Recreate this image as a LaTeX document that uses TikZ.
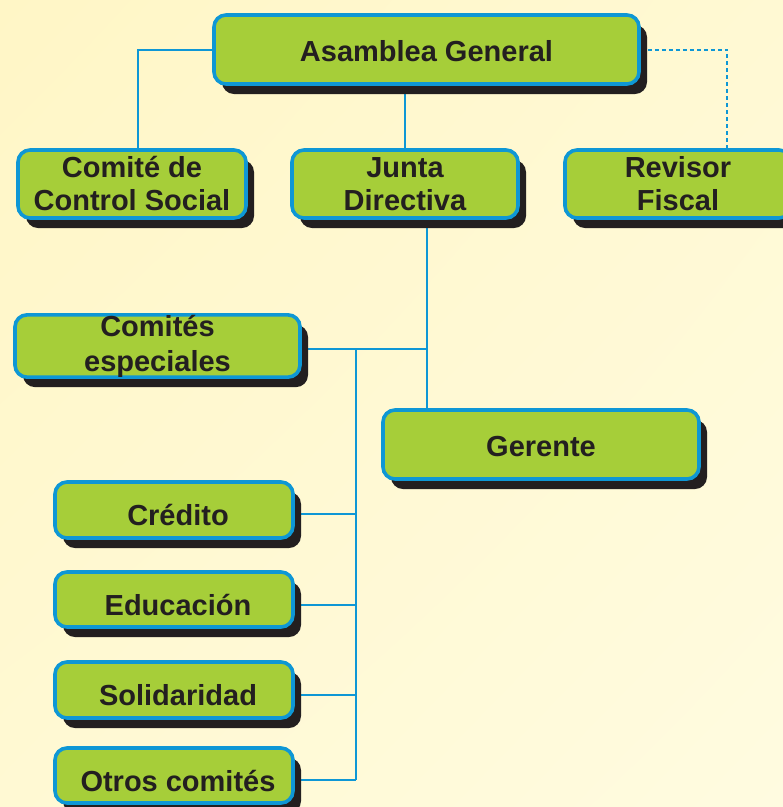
\documentclass[tikz,border=0pt]{standalone}
\usepackage{fontspec}
\setmainfont{Liberation Sans}
\usetikzlibrary{shadows,shadings}
\definecolor{bgreen}{HTML}{A6CE39}
\definecolor{bblue}{HTML}{0E97D5}
\definecolor{tdark}{HTML}{231F20}
\definecolor{bgA}{HTML}{FFF6C6}
\definecolor{bgB}{HTML}{FFF9D3}
\definecolor{bgC}{HTML}{FFFBE0}
\pgfdeclarelayer{bg}
\pgfsetlayers{bg,main}
\newcommand{\lowertext}[2]{\raisebox{-#1}[\height][\depth]{#2}}
\newcommand{\shiftedtext}[1]{\hspace*{8pt}\lowertext{5pt}{#1}}
\tikzset{
  orgbox/.style={draw=bblue, line width=3.6pt, fill=bgreen, rounded corners=12pt,
    inner sep=0pt, align=center, text=tdark,
    font=\fontsize{29}{33}\selectfont\bfseries,
    drop shadow={shadow xshift=8pt, shadow yshift=-10pt, fill=tdark, opacity=1}},
  link/.style={draw=bblue, line width=2pt},
  dlink/.style={link, dashed, dash pattern=on 4pt off 3pt}
}
\begin{document}
\begin{tikzpicture}[x=1pt,y=-1pt]
\useasboundingbox (0,0) rectangle (783,807);
\clip (0,0) rectangle (783,807);
\begin{pgfonlayer}{bg}
\shade[upper left=bgA, upper right=bgB, lower left=bgB, lower right=bgC] (0,0) rectangle (783,807);
\end{pgfonlayer}

\node[orgbox, minimum width=425pt, minimum height=69pt] (asamblea) at (426.5,49.5) {\lowertext{1.5pt}{Asamblea General}};
\node[orgbox, minimum width=228pt, minimum height=68pt] (comite) at (132,184) {Comité de\\Control Social};
\node[orgbox, minimum width=226pt, minimum height=68pt] (junta) at (405,184) {Junta\\Directiva};
\node[orgbox, minimum width=226pt, minimum height=68pt] (revisor) at (678,184) {Revisor\\Fiscal};
\node[orgbox, minimum width=285pt, minimum height=61pt] (especiales) at (157.5,346) {Comités\\[2pt]especiales};
\node[orgbox, minimum width=316pt, minimum height=69pt] (gerente) at (541,444.5) {\lowertext{2pt}{Gerente}};
\node[orgbox, minimum width=238pt, minimum height=56pt] (credito) at (174,510) {\shiftedtext{Crédito}};
\node[orgbox, minimum width=238pt, minimum height=55pt] (educacion) at (174,599.5) {\shiftedtext{Educación}};
\node[orgbox, minimum width=238pt, minimum height=56pt] (solidaridad) at (174,690) {\shiftedtext{Solidaridad}};
\node[orgbox, minimum width=238pt, minimum height=55pt] (otros) at (174,775.5) {\shiftedtext{Otros comités}};

\coordinate (hub) at (427,349);
\coordinate (bustop) at (356,349);
\coordinate (busbot) at (356,779.5);

\begin{pgfonlayer}{bg}
\draw[link] (asamblea.west) -| ([xshift=6pt]comite.north);
\draw[link] (junta.north) -- (junta.north |- asamblea.south);
\draw[dlink] (asamblea.east) -| ([xshift=49pt]revisor.north);
\draw[link] ([xshift=22pt]junta.south) -- ([xshift=22pt]junta.south |- gerente.north);
\draw[link] (especiales.east |- hub) -- (hub);
\draw[link] (bustop) -- (busbot);
\draw[link] ([yshift=-4pt]credito.east) -- ([yshift=-4pt]credito.east -| bustop);
\draw[link] ([yshift=-5pt]educacion.east) -- ([yshift=-5pt]educacion.east -| bustop);
\draw[link] ([yshift=-5pt]solidaridad.east) -- ([yshift=-5pt]solidaridad.east -| bustop);
\draw[link] ([yshift=-4pt]otros.east) -- (busbot);
\end{pgfonlayer}
\end{tikzpicture}
\end{document}
